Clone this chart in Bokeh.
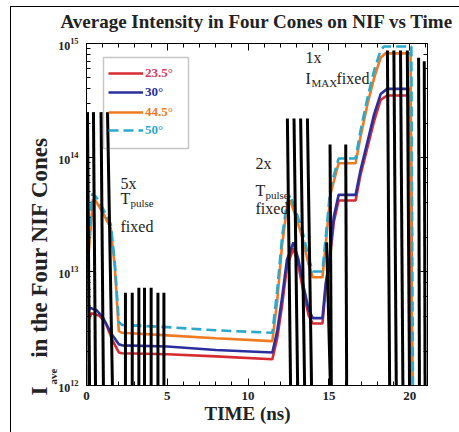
import math
from bokeh.plotting import figure
from bokeh.models import (Range1d, LinearAxis, LogAxis, FixedTicker, Label, Title,
                          Legend, LegendItem, BoxAnnotation, CustomJSTickFormatter)
from bokeh.embed import file_html
from bokeh.resources import INLINE

SERIF = "Liberation Serif"

# ---------------- data ----------------
series_names = ["23.5\u00b0", "30\u00b0", "44.5\u00b0", "50\u00b0"]
series_colors = ["#d62b30", "#2b2f9e", "#f07a22", "#2aa9cb"]
label_colors = ["#d2405e", "#2b2f9e", "#f07a22", "#35a6c8"]

t_red = [0, 0.05, 0.3, 0.8, 1.2, 1.6, 2.0, 2.2, 5, 8, 11.5, 11.8, 12.1, 12.4, 12.8, 13.1,
         13.45, 13.75, 14.0, 14.6, 14.8, 15.0, 15.3, 15.6, 16.65, 16.95, 17.4, 17.8, 18.2,
         18.6, 20.05, 20.15]
i_red = [9e11, 3.5e12, 4.3e12, 4.1e12, 3.5e12, 2.5e12, 1.95e12, 1.92e12, 1.88e12, 1.8e12,
         1.7e12, 2.6e12, 5e12, 1.1e13, 1.6e13, 1.15e13, 6.3e12, 4.1e12, 3.5e12, 3.5e12, 7e12,
         1.05e13, 2.7e13, 4.2e13, 4.2e13, 7e13, 1.25e14, 2.1e14, 3.2e14, 3.5e14, 3.5e14, 9e11]

t_blue = [0, 0.05, 0.2, 0.6, 1.0, 1.5, 2.0, 2.2, 5, 8, 11.5, 11.8, 12.1, 12.4, 12.8, 13.1,
          13.45, 13.75, 14.0, 14.6, 14.8, 15.0, 15.3, 15.6, 16.65, 16.95, 17.4, 17.8, 18.2,
          18.6, 20.05, 20.15]
i_blue = [9e11, 4e12, 4.8e12, 4.6e12, 4.0e12, 2.9e12, 2.3e12, 2.25e12, 2.2e12, 2.05e12,
          1.95e12, 3e12, 5.9e12, 1.26e13, 1.8e13, 1.3e13, 7.2e12, 4.6e12, 3.9e12, 3.9e12,
          7.9e12, 1.18e13, 3e13, 4.7e13, 4.7e13, 7.7e13, 1.4e14, 2.4e14, 3.6e14, 4e14, 4e14, 9e11]

t_orange = [0, 0.05, 0.4, 0.6, 1.0, 1.5, 1.75, 2.0, 2.2, 5, 8, 11.5, 11.8, 12.1, 12.4, 12.6,
            12.9, 13.35, 13.75, 14.0, 14.6, 14.8, 15.1, 15.6, 16.65, 16.95, 17.4, 17.8, 18.2,
            18.5, 20.05, 20.15]
i_orange = [9e11, 1e13, 4.3e13, 4.1e13, 3.3e13, 2.4e13, 1.1e13, 3.0e12, 2.9e12, 2.75e12,
            2.6e12, 2.45e12, 5.5e12, 1.7e13, 3.6e13, 4.2e13, 3.2e13, 2e13, 1.15e13, 8.9e12,
            8.9e12, 1.7e13, 4.8e13, 8.9e13, 8.9e13, 1.5e14, 3e14, 5e14, 7.5e14, 8.2e14, 8.2e14, 9e11]

t_cyan = [0, 0.05, 0.35, 0.6, 1.0, 1.5, 1.75, 2.0, 2.2, 5, 8, 11.5, 11.8, 12.1, 12.4, 12.6,
          12.9, 13.35, 13.75, 14.0, 14.6, 14.8, 15.1, 15.6, 16.65, 16.95, 17.4, 17.8, 18.2,
          18.4, 20.1, 20.2]
i_cyan = [9e11, 1.2e13, 4.8e13, 4.5e13, 3.6e13, 2.6e13, 1.2e13, 3.6e12, 3.4e12, 3.25e12,
          3.05e12, 2.9e12, 6.8e12, 2e13, 4e13, 4.7e13, 3.6e13, 2.3e13, 1.3e13, 1.0e13, 1.0e13,
          2e13, 5.5e13, 9.8e13, 9.8e13, 1.7e14, 3.4e14, 5.8e14, 8.7e14, 9.4e14, 9.4e14, 9e11]

# dark vertical streaks visible in the scanned figure
streak_t_top = [0.06, 0.43, 0.90, 1.30, 2.41, 2.83, 3.24, 3.59, 4.0, 4.42, 4.79,
                12.43, 12.84, 13.25, 13.67, 14.86, 15.07, 16.04, 18.62, 19.02, 19.43,
                19.85, 20.55, 20.9]
streak_t_bot = [0.19, 0.56, 1.05, 1.61, 2.41, 2.83, 3.24, 3.59, 4.0, 4.42, 4.79,
                12.63, 13.07, 13.5, 13.93, 15.1, 15.15, 16.1, 18.76, 19.17, 19.58,
                19.99, 20.6, 20.95]
streak_top = [2.5e14, 2.5e14, 2.5e14, 2.5e14, 6.5e12, 6.5e12, 7.2e12, 7.2e12, 7.2e12,
              6.5e12, 6.5e12, 2.2e14, 2.2e14, 2.2e14, 2.2e14, 1.8e13, 1.3e14, 1.3e14,
              8.7e14, 8.7e14, 8.7e14, 8.7e14, 7.5e14, 7e14]
streak_bottom = 9e11

x_ticks = [0, 5, 10, 15, 20]
x_min, x_max = 0, 21.1
y_min, y_max = 1e12, 1e15

# ---------------- layout ----------------
PAGE_FL, PAGE_FR, PAGE_FT, PAGE_FB = 86, 427, 43, 385   # frame edges in page pixels
OX, OY = 11, 7                                          # outer panel border offset
W, H = 459 - OX, 432 - OY

p = figure(width=W, height=H, output_backend="svg", toolbar_location=None,
           y_axis_type="log", x_range=Range1d(x_min, x_max), y_range=Range1d(y_min, y_max),
           min_border_left=PAGE_FL - OX, min_border_right=459 - PAGE_FR,
           min_border_top=PAGE_FT - OY, min_border_bottom=432 - PAGE_FB)
p.frame_width = PAGE_FR - PAGE_FL
p.frame_height = PAGE_FB - PAGE_FT
p.styles = {"margin-left": "10px", "margin-top": "6px",
            "border-left": "1px solid black", "border-top": "1px solid black"}
p.background_fill_color = "white"
p.border_fill_color = "white"
p.outline_line_color = "black"
p.outline_line_width = 1
p.grid.visible = False

p.title.text = "Average Intensity in Four Cones on NIF vs Time"
p.title.align = "center"
p.title.text_font = SERIF
p.title.text_font_style = "bold"
p.title.text_font_size = "19px"
p.title.text_color = "#222222"
p.title.standoff = 0


def style_axis(ax):
    ax.major_tick_in = 7
    ax.major_tick_out = 0
    ax.minor_tick_in = 4
    ax.minor_tick_out = 0
    ax.axis_line_color = "black"
    ax.major_tick_line_color = "black"
    ax.minor_tick_line_color = "black"
    ax.major_label_text_font = SERIF
    ax.major_label_text_font_style = "bold"
    ax.major_label_text_color = "#222222"


xt = FixedTicker(ticks=x_ticks, minor_ticks=list(range(0, 22)))
p.xaxis.ticker = xt
style_axis(p.xaxis[0])
p.xaxis.major_label_text_font_size = "13px"
p.xaxis.major_label_standoff = 6
p.xaxis.axis_label = "TIME (ns)\u2003"
p.xaxis.axis_label_text_font = SERIF
p.xaxis.axis_label_text_font_style = "bold"
p.xaxis.axis_label_text_font_size = "19px"
p.xaxis.axis_label_text_color = "#222222"
p.xaxis.axis_label_standoff = 0

style_axis(p.yaxis[0])
p.yaxis.major_label_text_font_size = "12px"
p.yaxis.major_label_standoff = 8

blank = CustomJSTickFormatter(code="return ''")
spacer = CustomJSTickFormatter(code="return '\\u00a0'")
top_ax = LinearAxis(ticker=xt, formatter=spacer, major_label_standoff=0)
style_axis(top_ax)
top_ax.major_label_text_font_size = "8px"
p.add_layout(top_ax, "above")
right_ax = LogAxis(formatter=blank, major_label_standoff=0)
style_axis(right_ax)
p.add_layout(right_ax, "right")

# y-axis title: "I" with subscript "ave", then the rest
p.add_layout(Title(text="ave", align="left", offset=1, standoff=-6,
                   text_font=SERIF, text_font_style="bold", text_font_size="11px",
                   text_color="#222222"), "left")
p.add_layout(Title(text="I\u2003\u00a0in the Four NIF Cones", align="left", offset=-10,
                   standoff=-8, text_font=SERIF, text_font_style="bold",
                   text_font_size="23px", text_color="#222222"), "left")

# ---------------- curves ----------------
data = [(t_red, i_red), (t_blue, i_blue), (t_orange, i_orange), (t_cyan, i_cyan)]
renderers = []
for k, (tt, ii) in enumerate(data):
    dash = "solid" if k < 3 else "10 5"
    r = p.line(tt, ii, line_color=series_colors[k], line_width=2.6, line_dash=dash)
    renderers.append(r)

p.segment(x0=streak_t_top, y0=streak_top, x1=streak_t_bot,
          y1=[streak_bottom] * len(streak_top), line_color="black", line_width=3)


# ---------------- annotations ----------------
def sx(cx):
    return cx - PAGE_FL


def sy(cy):
    return PAGE_FB - cy


def add_label(text, cx, cy, size, bold=False):
    p.add_layout(Label(x=sx(cx), y=sy(cy), x_units="screen", y_units="screen", text=text,
                       text_font=SERIF, text_font_size=f"{size}px",
                       text_font_style="bold" if bold else "normal",
                       text_color="#222222", text_baseline="alphabetic",
                       text_align="left"))


add_label("5x", 120, 183, 16)
add_label("T", 120, 198, 16)
add_label("pulse", 130, 202, 11)
add_label("fixed", 120, 226, 16)

add_label("2x", 255, 163, 16)
add_label("T", 255, 190, 16)
add_label("pulse", 265, 194, 11)
add_label("fixed", 255, 208, 16)

add_label("1x", 305, 57, 16)
add_label("I", 305, 78, 16)
add_label("MAX", 311, 82, 11)
add_label("fixed", 336, 78, 16)

# legend: one entry per item so each label keeps its own colour
row_cy = [74, 93, 113, 131]
for k in range(4):
    lg = Legend(items=[LegendItem(label=series_names[k], renderers=[renderers[k]])],
                location=(sx(108), sy(row_cy[k] + 7)), padding=0, margin=0,
                glyph_width=35, glyph_height=14, label_height=14, label_standoff=2,
                border_line_alpha=0, background_fill_alpha=0,
                label_text_font=SERIF, label_text_font_style="bold",
                label_text_font_size="13px", label_text_color=label_colors[k])
    p.add_layout(lg, "center")

p.add_layout(BoxAnnotation(left=sx(103), right=sx(188), top=sy(57), bottom=sy(148),
                           left_units="screen", right_units="screen", top_units="screen",
                           bottom_units="screen", fill_alpha=0, line_color="#444444",
                           line_width=1.5))

open("out.html", "w").write(file_html(p, INLINE))
